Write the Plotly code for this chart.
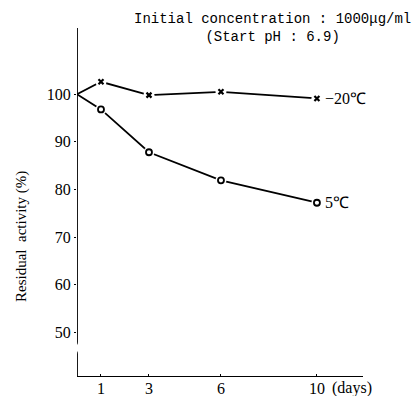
import plotly.graph_objects as go

days = [0, 1, 3, 6, 10]
minus20 = [100, 102.6, 99.8, 100.5, 99.1]
five = [100, 96.8, 87.8, 81.9, 77.2]
y_ticks = [50, 60, 70, 80, 90, 100]
x_ticks = [1, 3, 6, 10]

SERIF = "Times New Roman"
W, H = 415, 396
L, R, T, B = 77, 52, 28, 19
XR = [0, 11.92]
YR = [40.6, 113.9]

fig = go.Figure()

for ys in (minus20, five):
    fig.add_trace(go.Scatter(x=days, y=ys, mode="lines",
                             line=dict(color="black", width=1.8),
                             showlegend=False, hoverinfo="skip"))
    fig.add_trace(go.Scatter(x=days[1:], y=ys[1:], mode="markers",
                             marker=dict(symbol="circle", size=11, color="white",
                                         line=dict(width=0)),
                             showlegend=False, hoverinfo="skip"))

fig.add_trace(go.Scatter(x=days[1:], y=minus20[1:], mode="markers",
                         marker=dict(symbol="x-thin", size=5, color="black",
                                     line=dict(width=2.2, color="black")),
                         showlegend=False))
fig.add_trace(go.Scatter(x=days[1:], y=five[1:], mode="markers",
                         marker=dict(symbol="circle", size=6, color="white",
                                     line=dict(width=1.8, color="black")),
                         showlegend=False))

pxx = (XR[1] - XR[0]) / (W - L - R)
pxy = (YR[1] - YR[0]) / (H - T - B)

def yv(py):
    return YR[1] - (py - T) * pxy

shapes = [
    dict(type="path", xref="x", yref="y",
         path=f"M 0,{YR[1]} L 0,{yv(342)} Q 0,{yv(345)} {-3*pxx},{yv(346)}",
         line=dict(color="black", width=1.8)),
    dict(type="path", xref="x", yref="y",
         path=f"M {-3*pxx},{yv(350)} Q 0,{yv(351)} 0,{yv(354)} L 0,{YR[0]}",
         line=dict(color="black", width=1.8)),
    dict(type="line", xref="x", yref="y", x0=0, x1=XR[1], y0=YR[0], y1=YR[0],
         line=dict(color="black", width=1.8)),
]
fig.update_layout(shapes=shapes)

def px_x(p):
    return (p - L) / (W - L - R)

def px_y(p):
    return 1 - (p - T) / (H - T - B)

font16 = dict(family=SERIF, size=16, color="black")
fig.add_annotation(x=10.25, y=minus20[-1], xref="x", yref="y", text="−20℃",
                   showarrow=False, xanchor="left", yanchor="middle", font=font16)
fig.add_annotation(x=10.25, y=five[-1], xref="x", yref="y", text="5℃",
                   showarrow=False, xanchor="left", yanchor="middle", font=font16)
fig.add_annotation(x=px_x(413), y=px_y(28), xref="paper", yref="paper",
                   text="Initial concentration : 1000μg/ml<br>(Start pH : 6.9)",
                   showarrow=False, xanchor="right", yanchor="middle", align="center",
                   font=dict(family="Liberation Mono", size=14, color="black"))
fig.add_annotation(x=px_x(352), y=px_y(388), xref="paper", yref="paper",
                   text="(days)", showarrow=False,
                   xanchor="center", yanchor="middle",
                   font=dict(family=SERIF, size=16, color="black"))
fig.add_annotation(x=px_x(21), y=px_y(237), xref="paper", yref="paper",
                   text="Residual  activity (%)", showarrow=False, textangle=-90,
                   xanchor="center", yanchor="middle",
                   font=dict(family=SERIF, size=15, color="black"))

fig.update_layout(
    width=W, height=H,
    font=dict(family=SERIF, size=16, color="black"),
    margin=dict(l=L, r=R, t=T, b=B, pad=0),
    paper_bgcolor="white", plot_bgcolor="white",
    showlegend=False,
    xaxis=dict(range=XR, tickvals=x_ticks, ticktext=[str(v) for v in x_ticks],
               showline=False, showgrid=False, zeroline=False,
               ticks="inside", ticklen=3, tickwidth=1.2, tickcolor="black",
               tickfont=dict(size=16, color="black"), automargin=False),
    yaxis=dict(range=YR, tickvals=y_ticks, ticktext=[str(v) for v in y_ticks],
               showline=False, showgrid=False, zeroline=False,
               ticks="outside", ticklen=2, tickwidth=1, tickcolor="black",
               tickfont=dict(size=16, color="black"), automargin=False),
)

fig.write_html("out.html")
